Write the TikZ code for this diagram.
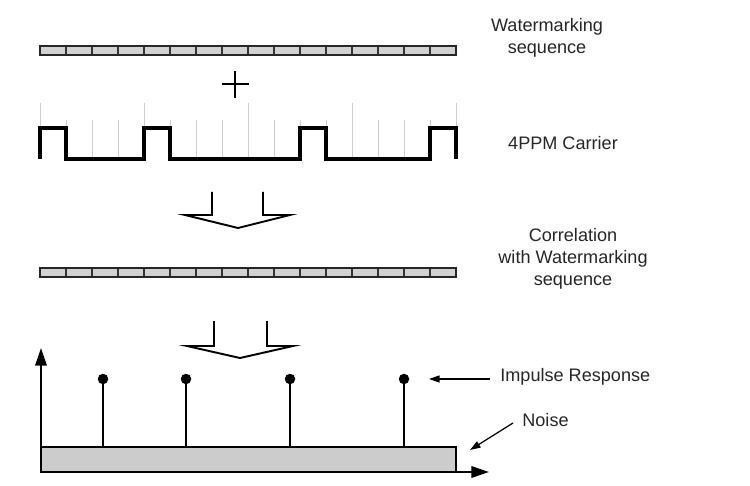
\documentclass[tikz,border=0pt]{standalone}
\usepackage{fontspec}
\setmainfont{Liberation Sans}
\usepackage{tikz}
\usetikzlibrary{positioning,calc,arrows.meta}

\tikzset{
	lbl/.style={inner sep=0pt,align=center,font=\fontsize{10.3}{12.5}\selectfont,text=black!85},
	seqcell/.style={draw=black!80,line width=0.8pt,fill=black!18},
	seqframe/.style={draw=black!85,line width=1.4pt},
	grid/.style={draw=black!20,line width=0.5pt},
	carrier/.style={draw=black,line width=2pt,line join=miter},
	hollow/.style={draw=black,line width=1.1pt,line join=miter},
	axis/.style={draw=black,line width=1.1pt,-{Triangle[length=10pt,width=6.5pt]}},
	dot/.style={circle,fill=black,inner sep=0pt,minimum size=2.1mm},
	pointer/.style={draw=black,line width=0.7pt,-{Triangle[length=6pt,width=4pt]}}
}

\begin{document}
\begin{tikzpicture}[x=0.02cm,y=-0.02cm]
		\useasboundingbox (0,0) rectangle (750,486);
		
		% first sequence
		\foreach \i in {0,...,15}
			\draw[seqcell] (40+\i*26,46) rectangle ++(26,9);
		\draw[seqframe] (40,46) rectangle (456,55);
		
		\node[lbl] (wm) at (547,38) {Watermarking\\sequence};
		
		% plus
		\draw[line width=0.9pt] (222,84) -- (249,84);
		\draw[line width=0.9pt] (235,71) -- (235,98);
		
		% carrier grid
		\foreach \i in {1,2,3,5,6,7,9,10,11,13,14,15}
			\draw[grid] (40+\i*26,159) -- (40+\i*26,120);
		\foreach \i in {0,4,8,12,16}
			\draw[grid] (40+\i*26,159) -- (40+\i*26,103);
		
		\draw[carrier] (40,159) -- (40,128) -- (66,128) -- (66,159) -- (144,159) -- (144,128) -- (170,128) -- (170,159)
			-- (300,159) -- (300,128) -- (326,128) -- (326,159) -- (430,159) -- (430,128) -- (456,128) -- (456,159);
		
		\node[lbl] (pc) at (563,143) {4PPM Carrier};
		
		% down arrow
		\draw[hollow] (212,192) -- (212,215) -- (185,215) -- (238,228) -- (290,215) -- (263,215) -- (263,192);
		
		% second sequence
		\foreach \i in {0,...,15}
			\draw[seqcell] (40+\i*26,268) rectangle ++(26,9);
		\draw[seqframe] (40,268) rectangle (456,277);
		
		\node[lbl] (corr) at (573,259) {Correlation\\with Watermarking\\sequence};
		
		% down arrow
		\draw[hollow] (214,321) -- (214,346) -- (187,346) -- (240,358) -- (293,346) -- (267,346) -- (267,321);
		
		% noise floor and axes
		\draw[draw=black,line width=1.1pt,fill=black!20] (41,447) rectangle (456,472);
		
		\coordinate (o) at (41,472);
		\coordinate (ytop) at (41,348);
		\coordinate (xend) at (489,472);
		\draw[axis] (o) -- (ytop);
		\draw[axis] (o) -- (xend);
		
		% impulses
		\foreach \x [count=\k] in {103,186,290,404} {
			\coordinate (b\k) at (\x,447);
			\node[dot] (d\k) at (\x,379) {};
			\draw[line width=1.1pt] (b\k) -- (d\k.center);
		}
		
		\node[lbl,anchor=west] (imp) at (500,377) {Impulse Response};
		\coordinate (impend) at (429,379);
		\draw[pointer] ($(imp.west)+(-10,2)$) -- (impend);
		
		\node[lbl,anchor=west] (noise) at (522,420) {Noise};
		\coordinate (noiseend) at (470,450);
		\draw[pointer] ($(noise.west)+(-9,3)$) -- (noiseend);
	\end{tikzpicture}
\end{document}
